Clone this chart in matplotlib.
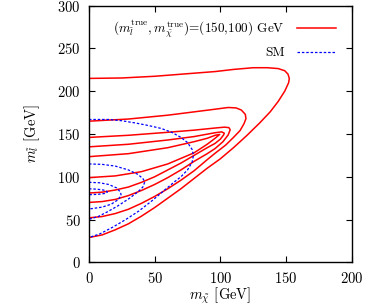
import matplotlib
matplotlib.use("Agg")
import matplotlib.pyplot as plt

plt.rcParams['font.family'] = 'serif'
plt.rcParams['font.serif'] = ['cmr10', 'DejaVu Serif']
plt.rcParams['mathtext.fontset'] = 'cm'
plt.rcParams['axes.unicode_minus'] = False
plt.rcParams['axes.formatter.use_mathtext'] = True

# Red contours (true point (150,100)): outer -> inner, traced as (x, y) lists
red_c1_x = [0, 10, 20, 30, 40, 50, 60, 70, 80, 90, 100, 110, 120, 130, 138, 144, 149, 152, 152.5, 151.5, 149, 144, 136, 125, 110, 96, 75, 50, 25, 0]
red_c1_y = [29, 32, 38, 45, 54, 64, 75, 86, 98, 110, 121, 134, 148, 163, 176, 188, 200, 210, 215, 220, 224, 226.5, 227.5, 227.5, 225.5, 223, 220.5, 217.5, 215.5, 215]

red_c2_x = [0, 10, 20, 30, 40, 50, 60, 70, 80, 90, 96, 104, 110, 115, 118, 119.5, 119, 116, 112, 106, 96, 60, 30, 0]
red_c2_y = [52, 53.5, 57, 62, 69, 77, 86, 96, 107, 120, 127.5, 137, 146, 154, 162, 168, 173, 178, 180.5, 181, 179, 172, 167.5, 165]

red_c3_x = [0, 10, 20, 30, 40, 50, 60, 70, 80, 90, 96, 102, 106, 107.5, 106.5, 103, 96, 80, 60, 30, 0]
red_c3_y = [70, 71, 73.5, 78, 84, 91, 99, 108, 118, 127, 133, 141, 149, 155, 157.5, 158, 157, 154.5, 152, 148.5, 146]

red_c4_x = [0, 10, 20, 30, 40, 50, 60, 70, 80, 90, 96, 100, 102.5, 103, 101, 96, 80, 60, 30, 0]
red_c4_y = [81, 82, 84.5, 88, 93.5, 100, 108, 116, 125, 134, 139, 144, 149, 151, 152.5, 151.5, 147, 143, 138, 135]

red_c5_x = [0, 20, 40, 60, 80, 90, 96, 99.5, 96, 90, 80, 60, 30, 0]
red_c5_y = [99, 101, 106, 115, 128, 138, 145, 149.5, 148.5, 145, 141, 134, 127, 123.5]

# Blue SM contours
sm_c1_x = [0, 15, 25, 35, 45, 55, 63, 70, 75, 78.5, 79.5, 78.5, 75, 70, 65, 58, 48, 38, 28, 18, 8, 0]
sm_c1_y = [167, 167, 165.5, 163, 160, 156.5, 152, 146, 140, 132, 125, 117, 108, 100, 94, 85, 72, 60, 50, 41, 33, 29]

sm_c2_x = [0, 10, 20, 30, 37, 41, 42.5, 41, 37, 30, 22, 14, 7, 0]
sm_c2_y = [115, 114.5, 112.5, 108, 103, 98, 94, 88, 82, 74, 66, 59, 53.5, 50.3]

sm_c3_x = [0, 8, 15, 21, 24, 24.5, 22, 17, 10, 0]
sm_c3_y = [93.5, 93, 91, 87, 82, 78, 73, 68, 64.5, 62.3]

sm_c4_x = [0, 6, 11, 13.5, 14, 12, 7, 0]
sm_c4_y = [86, 85.5, 84.5, 83, 82, 80.5, 79.5, 79]

xticks = [0, 50, 100, 150, 200]
yticks = [0, 50, 100, 150, 200, 250, 300]

fig = plt.figure(figsize=(3.68, 3.07), dpi=100)
ax = fig.add_axes([0.2418, 0.1456, 0.7139, 0.8358])

red_kw = dict(color='#ff0000', lw=1.1, solid_joinstyle='round')
blue_kw = dict(color='#0000ff', lw=0.9, ls=(0, (2, 1.5)))

ax.plot(red_c1_x, red_c1_y, label=r'$(m_{\tilde{l}}^{\rm true},m_{\tilde{\chi}}^{\rm true})$=(150,100) GeV', **red_kw)
for xs, ys in [(red_c2_x, red_c2_y), (red_c3_x, red_c3_y), (red_c4_x, red_c4_y), (red_c5_x, red_c5_y)]:
    ax.plot(xs, ys, **red_kw)
ax.plot(sm_c1_x, sm_c1_y, label='SM', **blue_kw)
for xs, ys in [(sm_c2_x, sm_c2_y), (sm_c3_x, sm_c3_y), (sm_c4_x, sm_c4_y)]:
    ax.plot(xs, ys, **blue_kw)

ax.set_xlim(0, 200)
ax.set_ylim(0, 300)
ax.set_xticks(xticks)
ax.set_yticks(yticks)
ax.tick_params(direction='in', top=True, right=True, length=4.5, width=0.8, labelsize=10.5, pad=6)
for s in ax.spines.values():
    s.set_linewidth(1.0)
ax.set_xlabel(r'$m_{\tilde{\chi}}$ [GeV]', fontsize=10.5, labelpad=0)
ax.set_ylabel(r'$m_{\tilde{l}}$ [GeV]', fontsize=10.5, labelpad=11)

leg = ax.legend(loc='upper right', bbox_to_anchor=(0.962, 0.975), frameon=False, markerfirst=False,
                fontsize=9.5, handlelength=3.0, labelspacing=0.55, borderaxespad=0.0,
                handletextpad=0.9)

fig.savefig('out.png', dpi=100)
